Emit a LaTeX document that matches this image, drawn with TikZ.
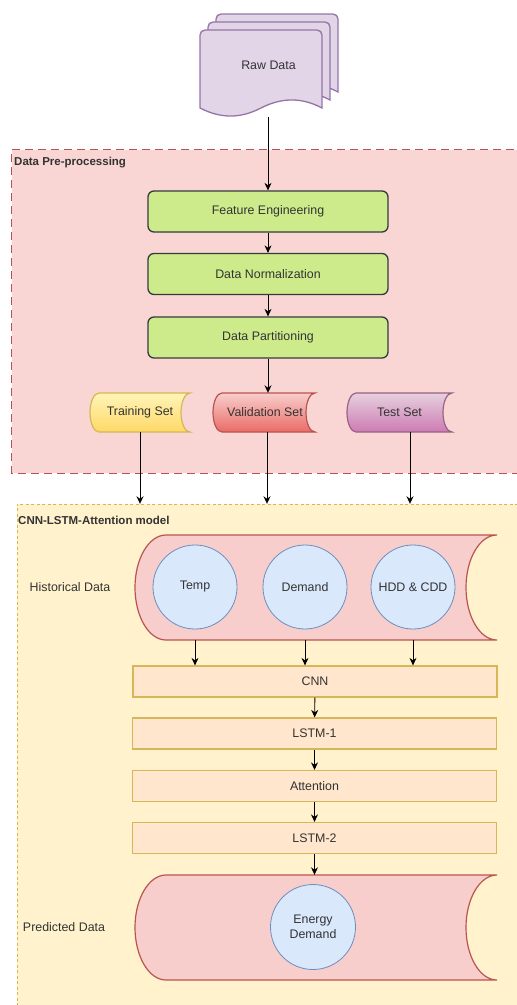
\documentclass[tikz,border=0pt]{standalone}
\usepackage{fontspec}
\setmainfont{Liberation Sans}
\usetikzlibrary{arrows.meta}
\definecolor{txt}{HTML}{333333}
\definecolor{prefill}{HTML}{F9D6D3}
\definecolor{preline}{HTML}{B85450}
\definecolor{modfill}{HTML}{FFF2CC}
\definecolor{modline}{HTML}{D6B656}
\definecolor{greenfill}{HTML}{CDEB8B}
\definecolor{greenline}{HTML}{36393D}
\definecolor{layerfill}{HTML}{FFE6CC}
\definecolor{layerline}{HTML}{D6B656}
\definecolor{redfill}{HTML}{F8CECC}
\definecolor{redline}{HTML}{B85450}
\definecolor{bluefill}{HTML}{DAE8FC}
\definecolor{blueline}{HTML}{6C8EBF}
\definecolor{purfill}{HTML}{E1D5E7}
\definecolor{purline}{HTML}{9673A6}
\definecolor{yelTop}{HTML}{FFF4B8}
\definecolor{yelBot}{HTML}{FFD966}
\definecolor{redTop}{HTML}{F8CECC}
\definecolor{redBot}{HTML}{EA6B66}
\definecolor{pinkTop}{HTML}{E6D0DE}
\definecolor{pinkBot}{HTML}{CD7BB3}
\definecolor{pinkline}{HTML}{996185}
\newcommand{\dstoreshape}[6]{%
  \pgfmathsetmacro{\dsym}{(#3+#5)/2}%
  \pgfmathsetmacro{\dshh}{(#5-#3)/2*0.552}%
  \pgfmathsetmacro{\dsk}{#6*0.552}%
  \path[#1] ({#2+#6},#3) -- (#4,#3)
    .. controls ({#4-\dsk},#3) and ({#4-#6},{\dsym-\dshh}) .. ({#4-#6},\dsym)
    .. controls ({#4-#6},{\dsym+\dshh}) and ({#4-\dsk},#5) .. (#4,#5)
    -- ({#2+#6},#5)
    .. controls ({#2+#6-\dsk},#5) and (#2,{\dsym+\dshh}) .. (#2,\dsym)
    .. controls (#2,{\dsym-\dshh}) and ({#2+#6-\dsk},#3) .. ({#2+#6},#3) -- cycle;%
}
\newcommand{\docpage}[2]{%
  \path[draw=purline, fill=purfill, line width=1.3pt, shift={(#1,#2)}]
    (0,78) -- (0,5) .. controls (0,2.2) and (2.2,0) .. (5,0) -- (117,0)
    .. controls (119.8,0) and (122,2.2) .. (122,5) -- (122,78)
    .. controls (102,67.3) and (81.7,67.3) .. (61,78)
    .. controls (40.3,88.7) and (20.7,88.7) .. (0,78) -- cycle;%
}
\begin{document}
\begin{tikzpicture}[x=1pt,y=-1pt,
  every node/.style={text=txt, font=\fontsize{12.4}{14.5}\selectfont},
  lbl/.style={font=\bfseries\fontsize{11.5}{13}\selectfont, text=txt, anchor=west, inner sep=0},
  prebox/.style={fill=prefill, inner sep=0},
  preedge/.style={draw=preline, dash pattern=on 8pt off 5pt, line width=0.9pt},
  modbox/.style={fill=modfill, inner sep=0},
  modedge/.style={draw=modline, dash pattern=on 3pt off 2.5pt, line width=0.6pt},
  greenbox/.style={draw=greenline, fill=greenfill, rounded corners=6pt, line width=1.3pt, minimum width=240pt, minimum height=41pt, inner sep=0},
  layer/.style={draw=layerline, fill=layerfill, line width=1.2pt, minimum width=364pt, minimum height=31pt, inner sep=0},
  circ/.style={circle, draw=blueline, fill=bluefill, line width=0.8pt, minimum size=84pt, inner sep=0, align=center},
  txtbox/.style={inner sep=0},
  arr/.style={draw=black, line width=0.9pt, -{Stealth[length=7.5pt,width=7pt]}}
]
\useasboundingbox (0,0) rectangle (517,1005);
\clip (0,0) rectangle (517,1005);

% regions
\node[prebox, minimum width=528pt, minimum height=323pt] (pre) at (276,311.5) {};
\draw[preedge] (pre.north east) -- (pre.north west) -- (pre.south west) -- (pre.south east);
\node[lbl] (prelbl) at (14,163) {Data Pre-processing};
\node[modbox, minimum width=523pt, minimum height=516pt] (model) at (278.5,762) {};
\draw[modedge] (model.north east) -- (model.north west) -- (model.south west);
\node[lbl] (modlbl) at (18,520) {CNN-LSTM-Attention model};

% raw data
\docpage{216}{14}
\docpage{208}{22}
\docpage{200}{30}
\node[txtbox, minimum width=137pt, minimum height=86pt] (raw) at (268.5,65) {Raw Data};
\coordinate (rawout) at (268,117);

% preprocessing steps
\node[greenbox] (fe) at (268,211.5) {Feature Engineering};
\node[greenbox] (dn) at (268,274) {Data Normalization};
\node[greenbox] (dp) at (268,337.5) {Data Partitioning};

% data sets
\dstoreshape{draw=modline, line width=1.2pt, top color=yelTop, bottom color=yelBot}{90}{393}{190}{432}{9}
\dstoreshape{draw=redline, line width=1.2pt, top color=redTop, bottom color=redBot}{213}{393}{315}{432}{9}
\dstoreshape{draw=pinkline, line width=1.2pt, top color=pinkTop, bottom color=pinkBot}{347}{393}{452}{432}{9}
\node[txtbox, minimum width=100pt, minimum height=39pt] (train) at (140,412.5) {Training Set};
\node[txtbox, minimum width=102pt, minimum height=39pt] (val) at (265,412.5) {Validation Set};
\node[txtbox, minimum width=105pt, minimum height=39pt] (test) at (399.5,412.5) {Test Set};

% historical data
\dstoreshape{draw=redline, fill=redfill, line width=1.2pt}{135}{535}{497}{640}{31}
\node[txtbox, minimum width=362pt, minimum height=105pt] (hist) at (316,587.5) {};
\node[txtbox] (histlbl) at (70,587) {Historical Data};
\node[circ] (temp) at (195,587) {Temp};
\node[circ] (dem) at (305,587) {Demand};
\node[circ] (hdd) at (413,587) {HDD \& CDD};

% layers
\node[layer] (cnn) at (315,681.5) {CNN};
\node[layer] (lstm1) at (314.5,733.5) {LSTM-1};
\node[layer] (att) at (314.5,786) {Attention};
\node[layer] (lstm2) at (314.5,838) {LSTM-2};

% predicted data
\dstoreshape{draw=redline, fill=redfill, line width=1.2pt}{135}{875}{497}{980}{31}
\node[txtbox, minimum width=362pt, minimum height=105pt] (pred) at (316,927.5) {};
\node[txtbox] (predlbl) at (64,927) {Predicted Data};
\node[circ, minimum size=85pt, font=\fontsize{12.4}{15}\selectfont] (ed) at (313,927) {Energy\\Demand};

% connectors
\draw[arr] (rawout) -- (rawout |- fe.north);
\draw[arr] (fe) -- (dn);
\draw[arr] (dn) -- (dp);
\draw[arr] (dp.south) -- (dp.south |- val.north);
\draw[arr] (train.south) -- (train.south |- model.north);
\draw[arr] ([xshift=2pt]val.south) -- ([xshift=2pt]val.south |- model.north);
\draw[arr] ([xshift=10.5pt]test.south) -- ([xshift=10.5pt]test.south |- model.north);
\draw[arr] (temp |- hist.south) -- (temp |- cnn.north);
\draw[arr] (dem |- hist.south) -- (dem |- cnn.north);
\draw[arr] (hdd |- hist.south) -- (hdd |- cnn.north);
\draw[arr] (cnn) -- (lstm1);
\draw[arr] (lstm1) -- (att);
\draw[arr] (att) -- (lstm2);
\draw[arr] (lstm2.south) -- (lstm2.south |- pred.north);
\end{tikzpicture}
\end{document}
